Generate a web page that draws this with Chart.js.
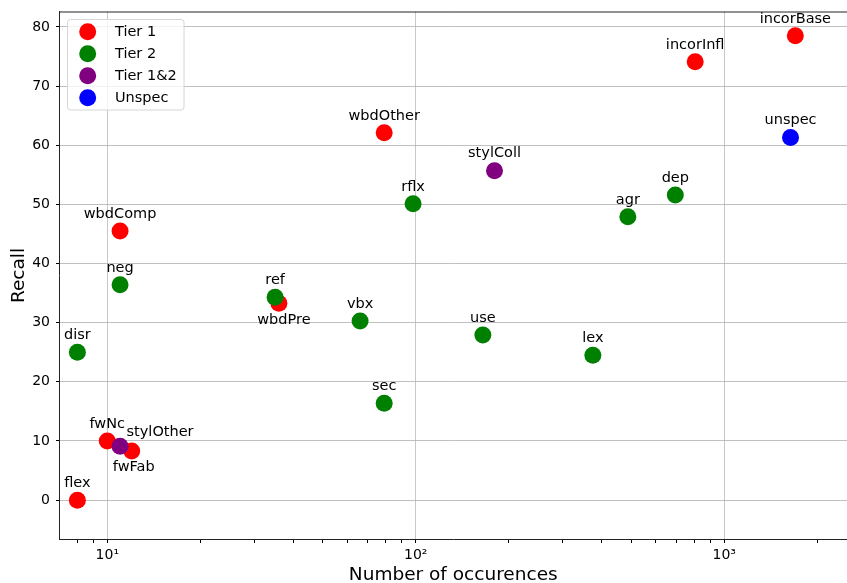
<!DOCTYPE html>
<html>
<head>
<meta charset="utf-8">
<script src="https://cdn.jsdelivr.net/npm/chart.js@4.4.0/dist/chart.umd.min.js"></script>
<style>
  html, body { margin: 0; padding: 0; background: #fff; overflow: hidden; }
  canvas { display: block; }
</style>
</head>
<body>
<canvas id="myChart" width="847" height="583"></canvas>
<script>
// data
var tier1Names  = ["flex", "fwNc", "fwFab", "wbdComp", "wbdPre", "wbdOther", "incorInfl", "incorBase"];
var tier1Counts = [8, 10, 12, 11, 36, 79, 805, 1700];
var tier1Recall = [0, 10.0, 8.3, 45.5, 33.3, 62.1, 74.1, 78.5];

var tier2Names  = ["disr", "neg", "ref", "vbx", "sec", "rflx", "use", "lex", "agr", "dep"];
var tier2Counts = [8, 11, 35, 66, 79, 98, 165, 375, 487, 694];
var tier2Recall = [25.0, 36.4, 34.3, 30.3, 16.4, 50.1, 27.9, 24.5, 47.9, 51.6];

var tier12Names  = ["stylOther", "stylColl"];
var tier12Counts = [11, 180];
var tier12Recall = [9.1, 55.7];

var unspecNames  = ["unspec"];
var unspecCounts = [1640];
var unspecRecall = [61.3];

var yTicks = [0, 10, 20, 30, 40, 50, 60, 70, 80];
var xMajor = { 10: "10\u00b9", 100: "10\u00b2", 1000: "10\u00b3" };
var xTicks = [8, 9, 10, 20, 30, 40, 50, 60, 70, 80, 90, 100, 200, 300, 400, 500, 600, 700, 800, 900, 1000, 2000];

// label placement (pixels, relative to the point)
var labelOffset = { wbdPre: [5, 17], fwFab: [2, 16], stylOther: [40, -14] };

function pts(counts, recall) {
    return counts.map(function(c, i) { return { x: c, y: recall[i] }; });
}

var ds = [
    { label: "Tier 1", names: tier1Names, data: pts(tier1Counts, tier1Recall), backgroundColor: "#ff0000", order: 3 },
    { label: "Tier 2", names: tier2Names, data: pts(tier2Counts, tier2Recall), backgroundColor: "#008000", order: 2 },
    { label: "Tier 1&2", names: tier12Names, data: pts(tier12Counts, tier12Recall), backgroundColor: "#800080", order: 1 },
    { label: "Unspec", names: unspecNames, data: pts(unspecCounts, unspecRecall), backgroundColor: "#0000ff", order: 0 }
];
ds.forEach(function(d) {
    d.pointRadius = 8.5;
    d.pointHoverRadius = 8.5;
    d.borderWidth = 0;
    d.borderColor = d.backgroundColor;
});

var FONT = "'DejaVu Sans', sans-serif";

// point names, top spine and legend box
var extras = {
    id: "extras",
    afterDatasetsDraw: function(chart) {
        var c = chart.ctx, xs = chart.scales.x, ys = chart.scales.y, a = chart.chartArea;
        c.save();
        c.font = "14.5px " + FONT;
        c.fillStyle = "#000";
        c.textAlign = "center";
        c.textBaseline = "middle";
        chart.data.datasets.forEach(function(d) {
            d.data.forEach(function(p, i) {
                var name = d.names[i];
                var off = labelOffset[name] || [0, -17];
                c.fillText(name, xs.getPixelForValue(p.x) + off[0], ys.getPixelForValue(p.y) + off[1]);
            });
        });

        // top spine
        c.strokeStyle = "#222";
        c.lineWidth = 1;
        c.beginPath();
        c.moveTo(a.left, a.top + 0.5);
        c.lineTo(a.right, a.top + 0.5);
        c.stroke();

        // legend
        var lx = 67.5, ly = 19.5, lw = 116.5, lh = 90.5, r = 3;
        c.fillStyle = "rgba(255,255,255,0.8)";
        c.strokeStyle = "#d6d6d6";
        c.beginPath();
        c.moveTo(lx + r, ly);
        c.arcTo(lx + lw, ly, lx + lw, ly + lh, r);
        c.arcTo(lx + lw, ly + lh, lx, ly + lh, r);
        c.arcTo(lx, ly + lh, lx, ly, r);
        c.arcTo(lx, ly, lx + lw, ly, r);
        c.closePath();
        c.fill();
        c.stroke();
        c.textAlign = "left";
        chart.data.datasets.forEach(function(d, i) {
            var yy = 31.7 + i * 22;
            c.fillStyle = d.backgroundColor;
            c.beginPath();
            c.arc(87.7, yy, 8.5, 0, Math.PI * 2);
            c.fill();
            c.fillStyle = "#000";
            c.fillText(d.label, 115, yy + 1);
        });
        c.restore();
    }
};

var ctx = document.getElementById('myChart').getContext('2d');
var chart = new Chart(ctx, {
    type: 'scatter',
    data: { datasets: ds },
    plugins: [extras],
    options: {
        responsive: false,
        animation: false,
        events: [],
        layout: { autoPadding: false, padding: { top: 11.5, right: 0, left: 0, bottom: 0 } },
        plugins: {
            legend: { display: false },
            tooltip: { enabled: false }
        },
        scales: {
            x: {
                type: 'logarithmic',
                min: 7,
                max: 2500,
                afterBuildTicks: function(s) {
                    s.ticks = xTicks.map(function(v) { return { value: v, major: !!xMajor[v] }; });
                },
                afterFit: function(s) {
                    s.height = 43.5;
                    s.paddingLeft = 0;
                    s.paddingRight = 0;
                },
                ticks: {
                    autoSkip: false,
                    maxRotation: 0,
                    padding: 4,
                    color: "#000",
                    font: { family: FONT, size: 14 },
                    callback: function(v) { return xMajor[v] || ""; }
                },
                grid: {
                    color: function(c) { return c.tick && xMajor[c.tick.value] ? "rgba(176,176,176,0.7)" : "rgba(0,0,0,0)"; },
                    lineWidth: 1,
                    tickColor: "#000",
                    tickLength: 3.5,
                    drawTicks: true
                },
                border: { display: true, color: "#222", width: 1 },
                title: {
                    display: true,
                    text: "Number of occurences",
                    color: "#000",
                    font: { family: FONT, size: 18.5 },
                    padding: { top: 0, bottom: -3 }
                }
            },
            y: {
                min: -6.65,
                max: 82.6,
                afterBuildTicks: function(s) {
                    s.ticks = yTicks.map(function(v) { return { value: v }; });
                },
                afterFit: function(s) {
                    s.width = 59.5;
                    s.paddingTop = 0;
                    s.paddingBottom = 0;
                },
                ticks: {
                    padding: 6,
                    color: "#000",
                    font: { family: FONT, size: 14 }
                },
                grid: {
                    color: "rgba(176,176,176,0.8)",
                    lineWidth: 1,
                    tickColor: "#000",
                    tickLength: 3.5
                },
                border: { display: true, color: "#222", width: 1 },
                title: {
                    display: true,
                    text: "Recall",
                    color: "#000",
                    font: { family: FONT, size: 18.5 },
                    padding: { top: 8, bottom: 0 }
                }
            }
        }
    }
});
</script>
</body>
</html>
